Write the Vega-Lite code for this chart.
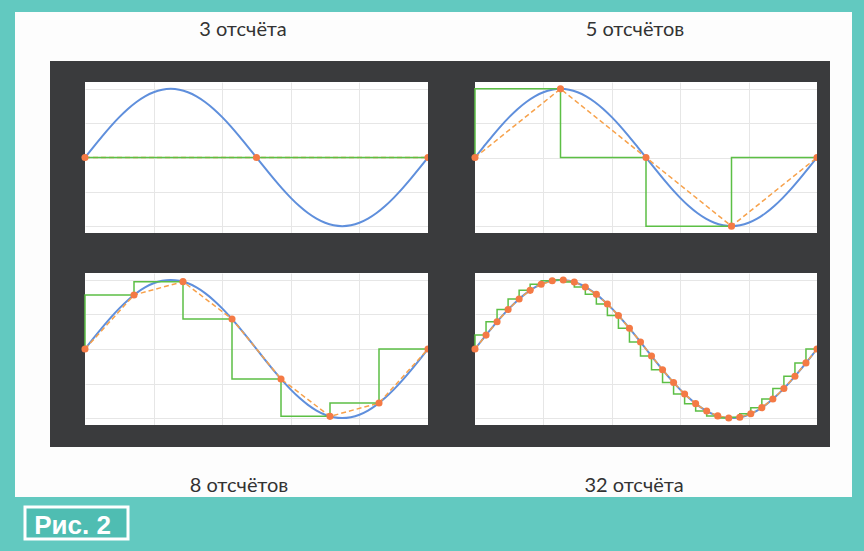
{
  "$schema": "https://vega.github.io/schema/vega-lite/v6.json",
  "background": "#62c9c0",
  "padding": {"left": 15, "top": 12, "right": 12, "bottom": 14},
  "config": {"concat": {"spacing": 0}, "view": {"stroke": null}},
  "datasets": {
    "wave": [
      {"t": 0, "v": 0}, {"t": 0.025, "v": 0.1564}, {"t": 0.05, "v": 0.309}, {"t": 0.075, "v": 0.454}, {"t": 0.1, "v": 0.5878},
      {"t": 0.125, "v": 0.7071}, {"t": 0.15, "v": 0.809}, {"t": 0.175, "v": 0.891}, {"t": 0.2, "v": 0.9511}, {"t": 0.225, "v": 0.9877},
      {"t": 0.25, "v": 1}, {"t": 0.275, "v": 0.9877}, {"t": 0.3, "v": 0.9511}, {"t": 0.325, "v": 0.891}, {"t": 0.35, "v": 0.809},
      {"t": 0.375, "v": 0.7071}, {"t": 0.4, "v": 0.5878}, {"t": 0.425, "v": 0.454}, {"t": 0.45, "v": 0.309}, {"t": 0.475, "v": 0.1564},
      {"t": 0.5, "v": 0}, {"t": 0.525, "v": -0.1564}, {"t": 0.55, "v": -0.309}, {"t": 0.575, "v": -0.454}, {"t": 0.6, "v": -0.5878},
      {"t": 0.625, "v": -0.7071}, {"t": 0.65, "v": -0.809}, {"t": 0.675, "v": -0.891}, {"t": 0.7, "v": -0.9511}, {"t": 0.725, "v": -0.9877},
      {"t": 0.75, "v": -1}, {"t": 0.775, "v": -0.9877}, {"t": 0.8, "v": -0.9511}, {"t": 0.825, "v": -0.891}, {"t": 0.85, "v": -0.809},
      {"t": 0.875, "v": -0.7071}, {"t": 0.9, "v": -0.5878}, {"t": 0.925, "v": -0.454}, {"t": 0.95, "v": -0.309}, {"t": 0.975, "v": -0.1564},
      {"t": 1, "v": 0}
    ],
    "samples": [
      {"n": 3, "t": 0, "v": 0}, {"n": 3, "t": 0.5, "v": 0}, {"n": 3, "t": 1, "v": 0},
      {"n": 5, "t": 0, "v": 0}, {"n": 5, "t": 0.25, "v": 1}, {"n": 5, "t": 0.5, "v": 0}, {"n": 5, "t": 0.75, "v": -1}, {"n": 5, "t": 1, "v": 0},
      {"n": 8, "t": 0, "v": 0}, {"n": 8, "t": 0.142857, "v": 0.7818}, {"n": 8, "t": 0.285714, "v": 0.9749}, {"n": 8, "t": 0.428571, "v": 0.4339},
      {"n": 8, "t": 0.571429, "v": -0.4339}, {"n": 8, "t": 0.714286, "v": -0.9749}, {"n": 8, "t": 0.857143, "v": -0.7818}, {"n": 8, "t": 1, "v": 0},
      {"n": 32, "t": 0, "v": 0}, {"n": 32, "t": 0.03226, "v": 0.2013}, {"n": 32, "t": 0.06452, "v": 0.3944}, {"n": 32, "t": 0.09677, "v": 0.5713},
      {"n": 32, "t": 0.12903, "v": 0.7248}, {"n": 32, "t": 0.16129, "v": 0.8486}, {"n": 32, "t": 0.19355, "v": 0.9378}, {"n": 32, "t": 0.22581, "v": 0.9885},
      {"n": 32, "t": 0.25806, "v": 0.9987}, {"n": 32, "t": 0.29032, "v": 0.9681}, {"n": 32, "t": 0.32258, "v": 0.8978}, {"n": 32, "t": 0.35484, "v": 0.7908},
      {"n": 32, "t": 0.3871, "v": 0.6514}, {"n": 32, "t": 0.41935, "v": 0.4853}, {"n": 32, "t": 0.45161, "v": 0.2994}, {"n": 32, "t": 0.48387, "v": 0.1012},
      {"n": 32, "t": 0.51613, "v": -0.1012}, {"n": 32, "t": 0.54839, "v": -0.2994}, {"n": 32, "t": 0.58065, "v": -0.4853}, {"n": 32, "t": 0.6129, "v": -0.6514},
      {"n": 32, "t": 0.64516, "v": -0.7908}, {"n": 32, "t": 0.67742, "v": -0.8978}, {"n": 32, "t": 0.70968, "v": -0.9681}, {"n": 32, "t": 0.74194, "v": -0.9987},
      {"n": 32, "t": 0.77419, "v": -0.9885}, {"n": 32, "t": 0.80645, "v": -0.9378}, {"n": 32, "t": 0.83871, "v": -0.8486}, {"n": 32, "t": 0.87097, "v": -0.7248},
      {"n": 32, "t": 0.90323, "v": -0.5713}, {"n": 32, "t": 0.93548, "v": -0.3944}, {"n": 32, "t": 0.96774, "v": -0.2013}, {"n": 32, "t": 1, "v": 0}
    ]
  },
  "spacing": 0,
  "vconcat": [
    {
      "bounds": "flush", "spacing": 0,
      "hconcat": [
        {"width": 456, "height": 49, "view": {"fill": "#fdfdfd", "stroke": null}, "data": {"values": [{"label": "3 отсчёта"}]},
         "mark": {"type": "text", "font": "Lato", "fontSize": 20, "color": "#333333", "baseline": "alphabetic", "dy": -1},
         "encoding": {"text": {"field": "label"}}},
        {"width": 328, "height": 49, "view": {"fill": "#fdfdfd", "stroke": null}, "data": {"values": [{"label": "5 отсчётов"}]},
         "mark": {"type": "text", "font": "Lato", "fontSize": 20, "color": "#333333", "baseline": "alphabetic", "dy": -1},
         "encoding": {"text": {"field": "label"}}},
        {"width": 53, "height": 49, "view": {"fill": "#fdfdfd", "stroke": null}, "data": {"values": []}, "mark": "point"}
      ]
    },
    {
      "spacing": 0,
      "hconcat": [
        {"width": 35, "height": 386, "view": {"fill": "#fdfdfd", "stroke": null}, "data": {"values": []}, "mark": "point"},
        {
          "spacing": 0,
          "vconcat": [
            {"width": 780, "height": 21, "view": {"fill": "#3a3b3d", "stroke": null}, "data": {"values": []}, "mark": "point"},
            {
              "bounds": "flush", "spacing": 0,
              "hconcat": [
                {"width": 35, "height": 151, "view": {"fill": "#3a3b3d", "stroke": null}, "data": {"values": []}, "mark": "point"},
                {
                  "width": 343, "height": 151, "view": {"fill": "#ffffff", "stroke": null},
                  "encoding": {
                    "x": {"field": "t", "type": "quantitative", "scale": {"domain": [0, 1], "nice": false, "zero": false},
                          "axis": {"title": null, "values": [0.2, 0.4, 0.6, 0.8], "labels": false, "ticks": false, "domain": false, "grid": true, "gridColor": "#e6e6e6"}},
                    "y": {"field": "v", "type": "quantitative", "scale": {"domain": [-1.1, 1.1], "nice": false, "zero": false},
                          "axis": {"title": null, "values": [-1, -0.5, 0, 0.5, 1], "labels": false, "ticks": false, "domain": false, "grid": true, "gridColor": "#e6e6e6"}}
                  },
                  "layer": [
                    {"data": {"name": "wave"}, "mark": {"type": "line", "color": "#5f8fdc", "strokeWidth": 2, "interpolate": "monotone"}},
                    {"data": {"name": "samples"}, "transform": [{"filter": "datum.n == 3"}], "mark": {"type": "line", "color": "#f7a14a", "strokeWidth": 1.5, "strokeDash": [5, 3]}},
                    {"data": {"name": "samples"}, "transform": [{"filter": "datum.n == 3"}], "mark": {"type": "line", "color": "#5cbf45", "strokeWidth": 1.5, "interpolate": "step-before"}},
                    {"data": {"name": "samples"}, "transform": [{"filter": "datum.n == 3"}], "mark": {"type": "circle", "color": "#f47a45", "size": 50, "opacity": 1}}
                  ]
                },
                {"width": 47, "height": 151, "view": {"fill": "#3a3b3d", "stroke": null}, "data": {"values": []}, "mark": "point"},
                {
                  "width": 342, "height": 151, "view": {"fill": "#ffffff", "stroke": null},
                  "encoding": {
                    "x": {"field": "t", "type": "quantitative", "scale": {"domain": [0, 1], "nice": false, "zero": false},
                          "axis": {"title": null, "values": [0.2, 0.4, 0.6, 0.8], "labels": false, "ticks": false, "domain": false, "grid": true, "gridColor": "#e6e6e6"}},
                    "y": {"field": "v", "type": "quantitative", "scale": {"domain": [-1.1, 1.1], "nice": false, "zero": false},
                          "axis": {"title": null, "values": [-1, -0.5, 0, 0.5, 1], "labels": false, "ticks": false, "domain": false, "grid": true, "gridColor": "#e6e6e6"}}
                  },
                  "layer": [
                    {"data": {"name": "wave"}, "mark": {"type": "line", "color": "#5f8fdc", "strokeWidth": 2, "interpolate": "monotone"}},
                    {"data": {"name": "samples"}, "transform": [{"filter": "datum.n == 5"}], "mark": {"type": "line", "color": "#f7a14a", "strokeWidth": 1.5, "strokeDash": [5, 3]}},
                    {"data": {"name": "samples"}, "transform": [{"filter": "datum.n == 5"}], "mark": {"type": "line", "color": "#5cbf45", "strokeWidth": 1.5, "interpolate": "step-before"}},
                    {"data": {"name": "samples"}, "transform": [{"filter": "datum.n == 5"}], "mark": {"type": "circle", "color": "#f47a45", "size": 50, "opacity": 1}}
                  ]
                },
                {"width": 13, "height": 151, "view": {"fill": "#3a3b3d", "stroke": null}, "data": {"values": []}, "mark": "point"}
              ]
            },
            {"width": 780, "height": 40, "view": {"fill": "#3a3b3d", "stroke": null}, "data": {"values": []}, "mark": "point"},
            {
              "bounds": "flush", "spacing": 0,
              "hconcat": [
                {"width": 35, "height": 152, "view": {"fill": "#3a3b3d", "stroke": null}, "data": {"values": []}, "mark": "point"},
                {
                  "width": 343, "height": 152, "view": {"fill": "#ffffff", "stroke": null},
                  "encoding": {
                    "x": {"field": "t", "type": "quantitative", "scale": {"domain": [0, 1], "nice": false, "zero": false},
                          "axis": {"title": null, "values": [0.2, 0.4, 0.6, 0.8], "labels": false, "ticks": false, "domain": false, "grid": true, "gridColor": "#e6e6e6"}},
                    "y": {"field": "v", "type": "quantitative", "scale": {"domain": [-1.1, 1.1], "nice": false, "zero": false},
                          "axis": {"title": null, "values": [-1, -0.5, 0, 0.5, 1], "labels": false, "ticks": false, "domain": false, "grid": true, "gridColor": "#e6e6e6"}}
                  },
                  "layer": [
                    {"data": {"name": "wave"}, "mark": {"type": "line", "color": "#5f8fdc", "strokeWidth": 2, "interpolate": "monotone"}},
                    {"data": {"name": "samples"}, "transform": [{"filter": "datum.n == 8"}], "mark": {"type": "line", "color": "#f7a14a", "strokeWidth": 1.5, "strokeDash": [5, 3]}},
                    {"data": {"name": "samples"}, "transform": [{"filter": "datum.n == 8"}], "mark": {"type": "line", "color": "#5cbf45", "strokeWidth": 1.5, "interpolate": "step-before"}},
                    {"data": {"name": "samples"}, "transform": [{"filter": "datum.n == 8"}], "mark": {"type": "circle", "color": "#f47a45", "size": 50, "opacity": 1}}
                  ]
                },
                {"width": 47, "height": 152, "view": {"fill": "#3a3b3d", "stroke": null}, "data": {"values": []}, "mark": "point"},
                {
                  "width": 342, "height": 152, "view": {"fill": "#ffffff", "stroke": null},
                  "encoding": {
                    "x": {"field": "t", "type": "quantitative", "scale": {"domain": [0, 1], "nice": false, "zero": false},
                          "axis": {"title": null, "values": [0.2, 0.4, 0.6, 0.8], "labels": false, "ticks": false, "domain": false, "grid": true, "gridColor": "#e6e6e6"}},
                    "y": {"field": "v", "type": "quantitative", "scale": {"domain": [-1.1, 1.1], "nice": false, "zero": false},
                          "axis": {"title": null, "values": [-1, -0.5, 0, 0.5, 1], "labels": false, "ticks": false, "domain": false, "grid": true, "gridColor": "#e6e6e6"}}
                  },
                  "layer": [
                    {"data": {"name": "wave"}, "mark": {"type": "line", "color": "#5f8fdc", "strokeWidth": 2, "interpolate": "monotone"}},
                    {"data": {"name": "samples"}, "transform": [{"filter": "datum.n == 32"}], "mark": {"type": "line", "color": "#f7a14a", "strokeWidth": 1.5, "strokeDash": [5, 3]}},
                    {"data": {"name": "samples"}, "transform": [{"filter": "datum.n == 32"}], "mark": {"type": "line", "color": "#5cbf45", "strokeWidth": 1.5, "interpolate": "step-before"}},
                    {"data": {"name": "samples"}, "transform": [{"filter": "datum.n == 32"}], "mark": {"type": "circle", "color": "#f47a45", "size": 50, "opacity": 1}}
                  ]
                },
                {"width": 13, "height": 152, "view": {"fill": "#3a3b3d", "stroke": null}, "data": {"values": []}, "mark": "point"}
              ]
            },
            {"width": 780, "height": 22, "view": {"fill": "#3a3b3d", "stroke": null}, "data": {"values": []}, "mark": "point"}
          ]
        },
        {"width": 22, "height": 386, "view": {"fill": "#fdfdfd", "stroke": null}, "data": {"values": []}, "mark": "point"}
      ]
    },
    {
      "bounds": "flush", "spacing": 0,
      "hconcat": [
        {"width": 448, "height": 50, "view": {"fill": "#fdfdfd", "stroke": null}, "data": {"values": [{"label": "8 отсчётов"}]},
         "mark": {"type": "text", "font": "Lato", "fontSize": 20, "color": "#333333", "baseline": "alphabetic", "dy": 20},
         "encoding": {"text": {"field": "label"}}},
        {"width": 342, "height": 50, "view": {"fill": "#fdfdfd", "stroke": null}, "data": {"values": [{"label": "32 отсчёта"}]},
         "mark": {"type": "text", "font": "Lato", "fontSize": 20, "color": "#333333", "baseline": "alphabetic", "dy": 20},
         "encoding": {"text": {"field": "label"}}},
        {"width": 47, "height": 50, "view": {"fill": "#fdfdfd", "stroke": null}, "data": {"values": []}, "mark": "point"}
      ]
    },
    {"width": 837, "height": 8, "data": {"values": []}, "mark": "point"},
    {
      "bounds": "flush", "spacing": 0,
      "hconcat": [
        {"width": 10, "height": 32, "data": {"values": []}, "mark": "point"},
        {"width": 103, "height": 32, "view": {"fill": "#4fbdb2", "stroke": "#ffffff", "strokeWidth": 3}, "data": {"values": [{"label": "Рис. 2"}]},
         "mark": {"type": "text", "font": "Liberation Sans", "fontWeight": "bold", "fontSize": 26, "color": "#ffffff", "baseline": "alphabetic", "dy": 11, "dx": -4},
         "encoding": {"text": {"field": "label"}}}
      ]
    }
  ]
}
